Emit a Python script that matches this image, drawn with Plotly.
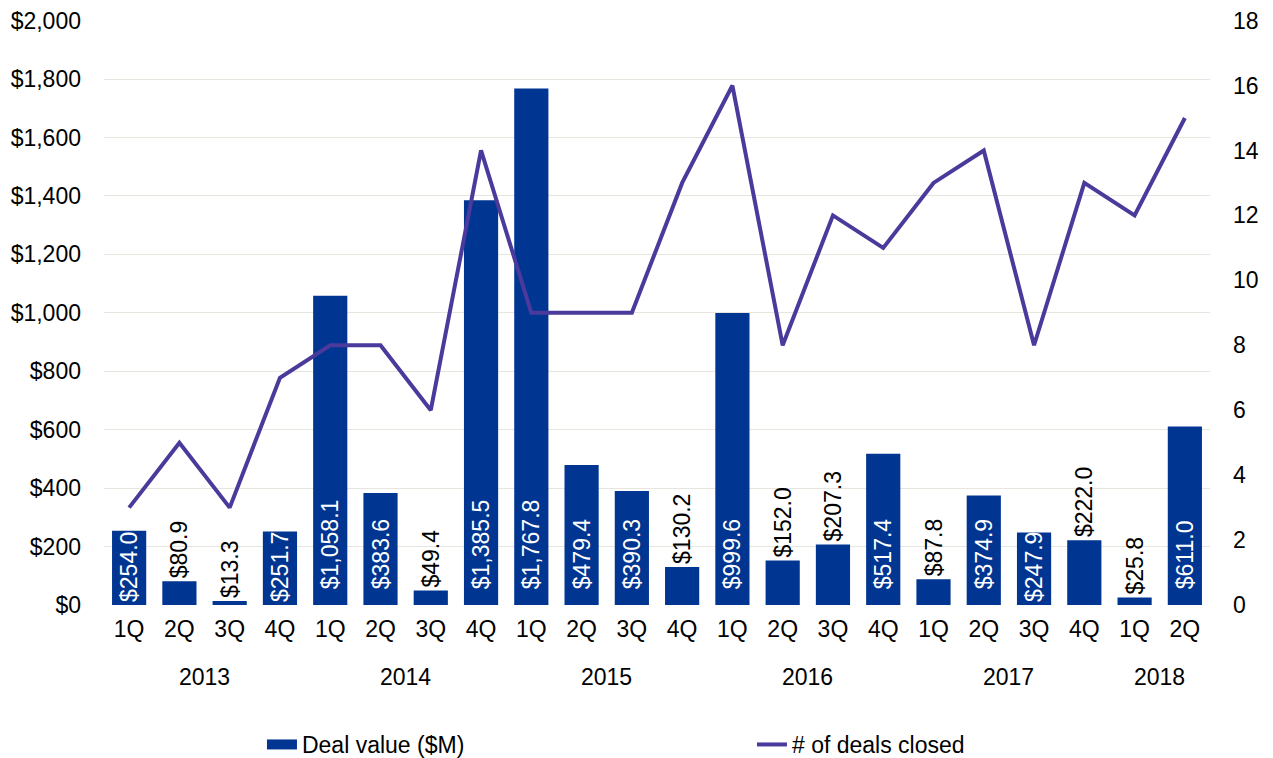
import plotly.graph_objects as go

years = ["2013"] * 4 + ["2014"] * 4 + ["2015"] * 4 + ["2016"] * 4 + ["2017"] * 4 + ["2018"] * 2
quarters = ["1Q", "2Q", "3Q", "4Q"] * 5 + ["1Q", "2Q"]
deal_value = [254.0, 80.9, 13.3, 251.7, 1058.1, 383.6, 49.4, 1385.5, 1767.8, 479.4, 390.3, 130.2,
              999.6, 152.0, 207.3, 517.4, 87.8, 374.9, 247.9, 222.0, 25.8, 611.0]
deals_closed = [3, 5, 3, 7, 8, 8, 6, 14, 9, 9, 9, 13, 16, 8, 12, 11, 13, 14, 8, 13, 12, 15]
label_inside = [True, False, False, True, True, True, False, True, True, True, True, False,
                True, False, False, True, False, True, True, False, False, True]
value_ticks = [0, 200, 400, 600, 800, 1000, 1200, 1400, 1600, 1800, 2000]
value_tick_labels = ["$0", "$200", "$400", "$600", "$800", "$1,000", "$1,200", "$1,400",
                     "$1,600", "$1,800", "$2,000"]
count_ticks = [0, 2, 4, 6, 8, 10, 12, 14, 16, 18]

BAR = "#003591"
LINE = "#4B3A9B"
FONT = "Liberation Sans, Arial, sans-serif"
FS = 23
TOP_PAD = 1.001  # tiny headroom so the top gridline is drawn

idx = list(range(len(quarters)))

def label(v, inside):
    s = f"${v:,.1f}"
    if inside and v > 300:
        s = "\u00a0\u00a0" + s
    return s

fig = go.Figure()
# legend proxy giving the wide rectangular swatch of the bar series
fig.add_trace(go.Scatter(
    x=[None], y=[None], name="Deal value ($M)", mode="lines",
    line=dict(color=BAR, width=13), hoverinfo="skip",
))
fig.add_trace(go.Bar(
    x=idx, y=deal_value, name="Deal value ($M)", showlegend=False,
    marker=dict(color=BAR, line=dict(width=0)),
    text=[label(v, i) for v, i in zip(deal_value, label_inside)],
    textposition=["inside" if i else "outside" for i in label_inside],
    insidetextanchor="start",
    textangle=-90,
    insidetextfont=dict(color="white", size=FS, family=FONT),
    outsidetextfont=dict(color="black", size=FS, family=FONT),
    constraintext="none",
    cliponaxis=False,
))
fig.add_trace(go.Scatter(
    x=idx, y=deals_closed, name="# of deals closed",
    mode="lines", line=dict(color=LINE, width=4), yaxis="y2",
))

# year group labels centred under their quarters
annotations = []
seen = []
for y in years:
    if y not in seen:
        seen.append(y)
for y in seen:
    pos = [i for i, yy in zip(idx, years) if yy == y]
    annotations.append(dict(x=sum(pos) / len(pos), y=0, xref="x", yref="paper",
                            text=y, showarrow=False, yshift=-72, yanchor="middle",
                            font=dict(size=FS, family=FONT, color="black")))

fig.update_layout(
    width=1273, height=758,
    margin=dict(l=96, r=71, t=12, b=161),
    paper_bgcolor="white", plot_bgcolor="white",
    font=dict(family=FONT, size=FS, color="black"),
    bargap=0.32,
    uniformtext=dict(minsize=FS, mode="show"),
    showlegend=True,
    legend=dict(orientation="h", xref="container", yref="container",
                x=0.1995, y=0.0, xanchor="left", yanchor="bottom",
                entrywidth=445, entrywidthmode="pixels",
                font=dict(size=FS, family=FONT)),
    xaxis=dict(range=[-0.5, len(idx) - 0.5], tickvals=idx, ticktext=quarters,
               showgrid=False, zeroline=False, showline=False, ticks="",
               tickfont=dict(size=FS), ticklabelstandoff=8, automargin=False,
               ticklabeloverflow="allow"),
    yaxis=dict(range=[0, value_ticks[-1] * TOP_PAD], tickvals=value_ticks,
               ticktext=value_tick_labels,
               showgrid=True, gridcolor="#E6E6DE", gridwidth=1, zeroline=False,
               ticks="", tickfont=dict(size=FS), ticklabelstandoff=22, automargin=False,
               ticklabeloverflow="allow"),
    yaxis2=dict(range=[0, count_ticks[-1] * TOP_PAD], tickvals=count_ticks,
                overlaying="y", side="right",
                showgrid=False, zeroline=False, ticks="", tickfont=dict(size=FS),
                ticklabelstandoff=22, automargin=False, ticklabeloverflow="allow"),
    annotations=annotations,
)

fig.write_html("out.html")
